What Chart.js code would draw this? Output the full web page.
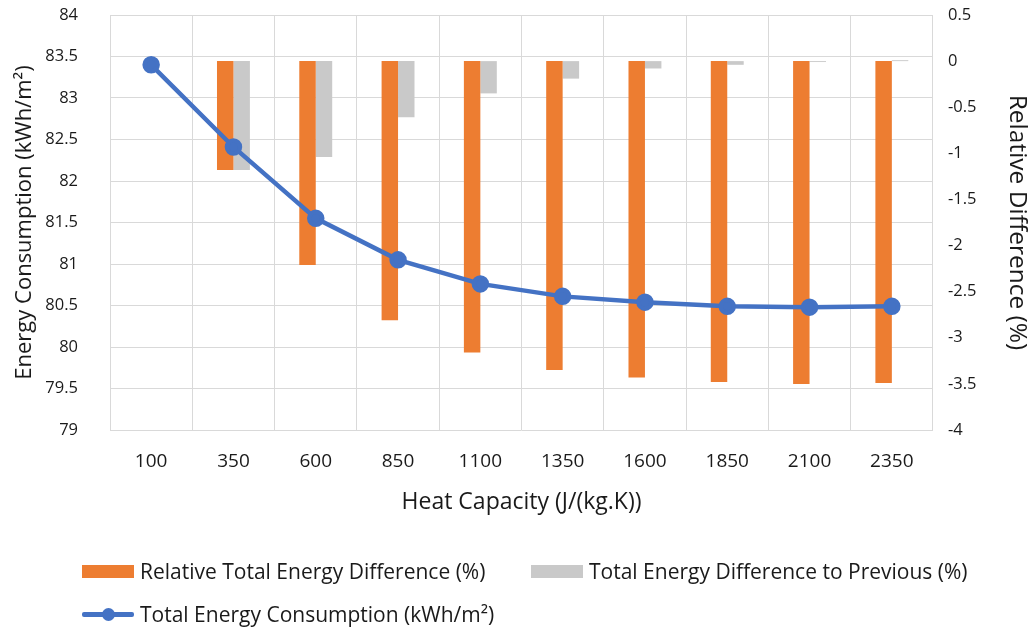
<!DOCTYPE html>
<html lang="en">
<head>
  <meta charset="UTF-8">
  <title>Heat Capacity vs Energy Consumption</title>
  <script src="https://cdn.jsdelivr.net/npm/chart.js"></script>
  <style>
    body {
      margin: 0;
      padding: 0;
      background: #fff;
      font-family: 'Open Sans', sans-serif;
    }
    .wrap {
      position: relative;
      width: 1035px;
      height: 637px;
    }
    .legend-item {
      position: absolute;
      display: flex;
      align-items: center;
      font-size: 21px;
      color: #1a1a1a;
      white-space: nowrap;
    }
    .legend-item .swatch {
      width: 52px;
      height: 13px;
      margin-right: 6px;
    }
    .legend-item .line-swatch {
      position: relative;
      width: 52px;
      height: 13px;
      margin-right: 6px;
    }
    .line-swatch .bar {
      position: absolute;
      left: 0;
      top: 4px;
      width: 52px;
      height: 5px;
      border-radius: 2px;
    }
    .line-swatch .dot {
      position: absolute;
      left: 20px;
      top: 0;
      width: 13px;
      height: 13px;
      border-radius: 50%;
    }
  </style>
</head>
<body>

<div class="wrap">
  <canvas id="heatChart" width="1035" height="637"></canvas>
  <div id="legend"></div>
</div>

<script>
  // heat capacity steps (J/(kg.K))
  const capacity = ['100', '350', '600', '850', '1100', '1350', '1600', '1850', '2100', '2350'];
  // total energy consumption (kWh/m²)
  const totalEnergy = [83.40, 82.41, 81.55, 81.05, 80.76, 80.61, 80.54, 80.49, 80.48, 80.49];
  // difference relative to the 100 J/(kg.K) case (%)
  const relTotalDiff = [0, -1.18, -2.21, -2.81, -3.16, -3.35, -3.43, -3.48, -3.50, -3.49];
  // difference to the previous step (%)
  const prevDiff = [0, -1.18, -1.04, -0.61, -0.35, -0.19, -0.08, -0.04, -0.01, 0.01];

  const leftTicks = { min: 79, max: 84, step: 0.5 };
  const rightTicks = { min: -4, max: 0.5, step: 0.5 };

  const textColor = '#1a1a1a';
  const gridColor = '#d9d9d9';
  const tickFont = { family: 'Open Sans', size: 16.5 };

  // excel style numbers: 84, 83.5, 0, -0.5
  const plainNumber = (value) => String(Number(value.toFixed(2)));

  // vertical scales add tick padding to their top/bottom padding, which
  // pushes the plot area down; keep just half a label height instead
  const trimPadding = (scale) => {
    scale.paddingTop = 10;
    scale.paddingBottom = 10;
  };

  const chart = new Chart(document.getElementById('heatChart'), {
    type: 'bar',
    data: {
      labels: capacity,
      datasets: [
        {
          label: 'Relative Total Energy Difference (%)',
          data: relTotalDiff,
          backgroundColor: '#ED7D31',
          yAxisID: 'y1',
          order: 2,
          barPercentage: 1,
          categoryPercentage: 0.4
        },
        {
          label: 'Total Energy Difference to Previous (%)',
          data: prevDiff,
          backgroundColor: '#C9C9C9',
          yAxisID: 'y1',
          order: 2,
          barPercentage: 1,
          categoryPercentage: 0.4
        },
        {
          type: 'line',
          label: 'Total Energy Consumption (kWh/m²)',
          data: totalEnergy,
          borderColor: '#4472C4',
          backgroundColor: '#4472C4',
          borderWidth: 4.5,
          pointRadius: 6.5,
          pointHoverRadius: 6.5,
          tension: 0,
          yAxisID: 'y',
          order: 1
        }
      ]
    },
    options: {
      responsive: false,
      animation: false,
      layout: {
        padding: { top: 15, bottom: 121, left: 0, right: 0 }
      },
      plugins: {
        legend: { display: false },
        tooltip: { enabled: false }
      },
      scales: {
        x: {
          afterFit: (scale) => { scale.height = 86; },
          grid: { color: gridColor, lineWidth: 1, drawTicks: false, offset: true },
          border: { display: false },
          ticks: { color: textColor, font: { family: 'Open Sans', size: 19 }, padding: 20, maxRotation: 0 },
          title: {
            display: true,
            text: 'Heat Capacity (J/(kg.K))',
            color: textColor,
            font: { family: 'Open Sans', size: 23 },
            padding: { top: 10, bottom: 0 }
          }
        },
        y: {
          position: 'left',
          min: leftTicks.min,
          max: leftTicks.max,
          afterFit: (scale) => { scale.width = 110; trimPadding(scale); },
          grid: { color: gridColor, lineWidth: 1, drawTicks: false },
          border: { display: false },
          ticks: {
            color: textColor,
            font: tickFont,
            padding: 32,
            stepSize: leftTicks.step,
            callback: plainNumber
          },
          title: {
            display: true,
            text: 'Energy Consumption (kWh/m²)',
            color: textColor,
            font: { family: 'Open Sans', size: 22 },
            padding: { top: 12, bottom: 0 }
          }
        },
        y1: {
          position: 'right',
          min: rightTicks.min,
          max: rightTicks.max,
          afterFit: (scale) => { scale.width = 102; trimPadding(scale); },
          grid: { display: false, drawTicks: false },
          border: { display: false },
          ticks: {
            color: textColor,
            font: tickFont,
            padding: 15,
            stepSize: rightTicks.step,
            callback: plainNumber
          },
          title: {
            display: true,
            text: 'Relative Difference (%)',
            color: textColor,
            font: { family: 'Open Sans', size: 24.5 },
            padding: { top: 3, bottom: 0 }
          }
        }
      }
    }
  });

  // legend below the chart, built from the datasets
  const legendSpots = [
    { left: 82, top: 557 },
    { left: 531, top: 557 },
    { left: 82, top: 600 }
  ];
  const legendEl = document.getElementById('legend');
  chart.data.datasets.forEach((ds, i) => {
    const item = document.createElement('div');
    item.className = 'legend-item';
    item.style.left = legendSpots[i].left + 'px';
    item.style.top = legendSpots[i].top + 'px';
    let swatch;
    if (ds.type === 'line') {
      swatch = `<span class="line-swatch"><span class="bar" style="background:${ds.borderColor}"></span>` +
               `<span class="dot" style="background:${ds.borderColor}"></span></span>`;
    } else {
      swatch = `<span class="swatch" style="background:${ds.backgroundColor}"></span>`;
    }
    item.innerHTML = swatch + `<span>${ds.label}</span>`;
    legendEl.appendChild(item);
  });
</script>
</body>
</html>
